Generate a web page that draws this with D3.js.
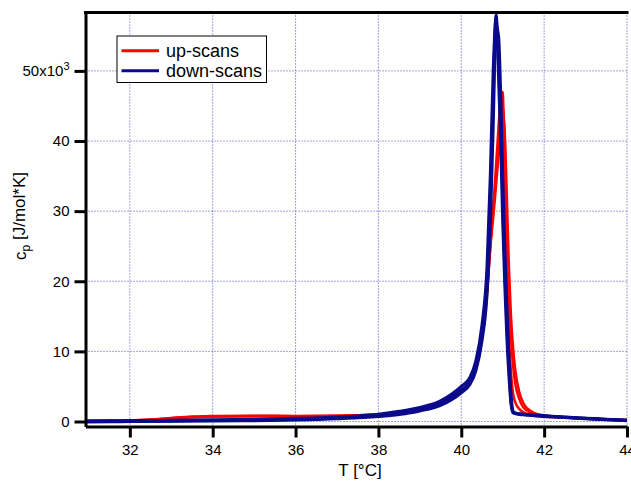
<!DOCTYPE html>
<html>
<head>
<meta charset="utf-8">
<script src="https://cdn.jsdelivr.net/npm/d3@7"></script>
<style>
  body { margin: 0; background: #fff; }
  text { font-family: "Liberation Sans", Arial, Helvetica, sans-serif; fill: #000; }
</style>
</head>
<body>
<div id="chart"></div>
<script>
// temperatures of the up-scans and their cp values
const upT = [30.95, 31.5, 32, 32.5, 33, 33.5, 34, 35, 36, 37, 38, 38.5, 39, 39.5, 40, 40.2, 40.35, 40.5, 40.62, 40.7, 40.8, 40.9, 40.95, 41.0, 41.05, 41.1, 41.15, 41.2, 41.25, 41.3, 41.4, 41.5, 41.7, 42, 42.5, 43, 43.5, 44];
const up1 = [60, 80, 120, 250, 450, 650, 720, 760, 740, 780, 1000, 1250, 1750, 2600, 4400, 5600, 7600, 12000, 18500, 25000, 33000, 42000, 46000, 47000, 33000, 20000, 12000, 7000, 4000, 2800, 1800, 1300, 900, 700, 550, 400, 280, 180];
const up2 = [40, 60, 100, 200, 400, 600, 700, 780, 760, 800, 1050, 1300, 1800, 2700, 4500, 5700, 7800, 12300, 19000, 25500, 32000, 39000, 43000, 45000, 40000, 27000, 18000, 12000, 8000, 5500, 3200, 2000, 1200, 800, 600, 430, 300, 200];
const up3 = [80, 100, 140, 280, 500, 700, 800, 820, 800, 820, 1000, 1200, 1700, 2550, 4300, 5500, 7500, 11800, 18000, 24500, 31000, 38000, 42000, 44000, 41000, 32000, 22000, 15000, 10500, 7500, 4200, 2600, 1400, 850, 620, 450, 320, 220];

// temperatures of the down-scans and their cp values
const downT = [30.95, 31.5, 32, 33, 34, 35, 36, 37, 38, 38.5, 39, 39.5, 40, 40.2, 40.35, 40.5, 40.62, 40.7, 40.77, 40.84, 40.9, 40.95, 41.0, 41.05, 41.1, 41.15, 41.2, 41.25, 41.32, 41.5, 41.7, 42, 42.5, 43, 43.5, 44];
const down1 = [20, 30, 50, 80, 150, 200, 300, 500, 850, 1200, 1700, 2600, 4500, 5600, 7800, 12600, 19700, 31600, 45900, 58000, 51000, 43000, 31600, 22000, 14000, 7800, 3000, 1350, 1150, 1000, 900, 780, 600, 450, 300, 150];
const down2 = [-60, -40, 0, 30, 80, 120, 200, 380, 700, 1000, 1500, 2300, 4100, 5200, 7200, 11500, 18000, 28000, 42000, 56500, 55000, 47000, 35000, 25000, 16500, 9500, 4000, 1500, 1200, 1050, 950, 820, 640, 480, 330, 180];
const down3 = [80, 100, 130, 180, 250, 330, 450, 650, 1050, 1450, 2000, 2950, 5000, 6200, 8600, 13800, 22000, 35000, 50000, 57500, 49000, 40000, 28500, 19500, 12000, 6500, 2500, 1250, 1100, 950, 850, 720, 560, 400, 260, 120];

const xTicks = [32, 34, 36, 38, 40, 42, 44];
const yTicks = [0, 10000, 20000, 30000, 40000, 50000];
const yTickLabels = ["0", "10", "20", "30", "40", "50x10"];
const legendLabels = ["up-scans", "down-scans"];

const W = 631, H = 481;
const pLeft = 85.5, pRight = 627, pTop = 12.5, pBottom = 426.5;

const x = d3.scaleLinear().domain([30.93, 44]).range([pLeft, pRight]);
const y = d3.scaleLinear().domain([-713, 58330]).range([pBottom, pTop]);

const svg = d3.select("#chart").append("svg")
  .attr("width", W)
  .attr("height", H);

// dotted grid
const grid = svg.append("g").attr("stroke", "#2a2ab8").attr("stroke-width", 1)
  .attr("stroke-dasharray", "1,2").attr("opacity", 0.85);
grid.selectAll(".gx").data(xTicks).enter().append("line")
  .attr("x1", d => x(d)).attr("x2", d => x(d))
  .attr("y1", pTop).attr("y2", pBottom);
grid.selectAll(".gy").data(yTicks).enter().append("line")
  .attr("x1", pLeft).attr("x2", pRight)
  .attr("y1", d => y(d)).attr("y2", d => y(d));

// scans
const line = d3.line()
  .x(d => x(d[0]))
  .y(d => y(d[1]))
  .curve(d3.curveMonotoneX);

const upScans = [up1, up2, up3];
const downScans = [down1, down2, down3];

upScans.forEach(s => {
  svg.append("path")
    .datum(upT.map((t, i) => [t, s[i]]))
    .attr("fill", "none")
    .attr("stroke", "#ff0000")
    .attr("stroke-width", 2.5)
    .attr("d", line);
});
downScans.forEach(s => {
  svg.append("path")
    .datum(downT.map((t, i) => [t, s[i]]))
    .attr("fill", "none")
    .attr("stroke", "#0a0a8a")
    .attr("stroke-width", 3)
    .attr("d", line);
});

// axes
const xAxis = svg.append("g")
  .attr("transform", "translate(0," + pBottom + ")")
  .call(d3.axisBottom(x).tickValues(xTicks).tickSize(11).tickSizeOuter(0).tickPadding(7).tickFormat(d3.format("d")));

const yAxis = svg.append("g")
  .attr("transform", "translate(" + pLeft + ",0)")
  .call(d3.axisLeft(y).tickValues(yTicks).tickSize(11).tickSizeOuter(0).tickPadding(5)
    .tickFormat((d, i) => yTickLabels[i]));

[xAxis, yAxis].forEach(a => {
  a.select(".domain").attr("stroke", "#000").attr("stroke-width", 3);
  a.selectAll(".tick line").attr("stroke", "#000").attr("stroke-width", 3);
  a.selectAll(".tick text").style("font-size", "15px").attr("fill", "#000");
});

// superscript on the top label
yAxis.selectAll(".tick text").filter((d, i) => i === yTicks.length - 1)
  .append("tspan")
  .attr("dy", "-0.55em")
  .style("font-size", "11px")
  .text("3");

// top frame line
svg.append("line")
  .attr("x1", pLeft - 1.5).attr("x2", pRight + 1.5)
  .attr("y1", pTop).attr("y2", pTop)
  .attr("stroke", "#000").attr("stroke-width", 3);

// axis titles
svg.append("text")
  .attr("x", 360).attr("y", 476)
  .attr("text-anchor", "middle")
  .style("font-size", "17px")
  .text("T [°C]");

const yt = svg.append("text")
  .attr("transform", "translate(26,216) rotate(-90)")
  .attr("text-anchor", "middle")
  .style("font-size", "17px");
yt.append("tspan").text("c");
yt.append("tspan").attr("dy", "0.3em").style("font-size", "12px").text("p");
yt.append("tspan").attr("dy", "-0.3em").text(" [J/mol*K]");

// legend
const lg = svg.append("g");
lg.append("rect")
  .attr("x", 117).attr("y", 36)
  .attr("width", 149.5).attr("height", 46.5)
  .attr("fill", "#fff").attr("stroke", "#000").attr("stroke-width", 1);
const legendColors = ["#ff0000", "#0a0a8a"];
legendLabels.forEach((lab, i) => {
  const ly = 50.7 + i * 20;
  lg.append("line")
    .attr("x1", 121.5).attr("x2", 159)
    .attr("y1", ly).attr("y2", ly)
    .attr("stroke", legendColors[i]).attr("stroke-width", 3);
  lg.append("text")
    .attr("x", 166).attr("y", ly + 6.5)
    .style("font-size", "18px")
    .text(lab);
});
</script>
</body>
</html>
